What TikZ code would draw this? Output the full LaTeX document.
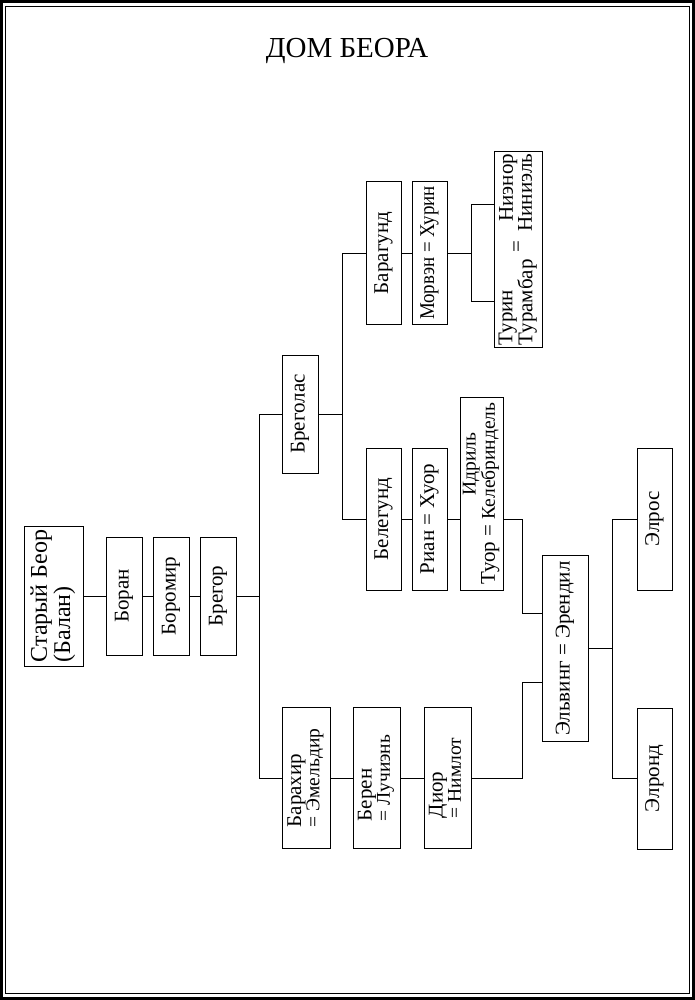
\documentclass[tikz,border=0pt]{standalone}
\usepackage{fontspec}
\setmainfont{Liberation Serif}
\usepackage{graphicx}
\newcommand\mainf{\fontsize{21}{18}\selectfont}
\newcommand\secf{\fontsize{19.5}{18}\selectfont}
\newcommand\rotlbl[1]{\rotatebox{90}{#1}}
\tikzset{
  box/.style={draw, line width=1pt, inner sep=0pt, outer sep=0pt, font=\mainf},
  conn/.style={line width=1pt},
}
\begin{document}
\begin{tikzpicture}[x=1pt, y=-1pt]
\useasboundingbox (0,0) rectangle (695,1000);
% frame
\draw[line width=3pt] (1.5,1.5) rectangle (693.5,998.5);
\draw[line width=0.8pt] (5.5,6) rectangle (689.5,993.5);
% title
\node[font=\fontsize{29}{30}\selectfont] (title) at (347,51) {ДОМ БЕОРА};
% nodes
\node[box, minimum width=59pt, minimum height=140pt] (beor) at (53.5,596)
  {\rotlbl{\fontsize{24}{22}\selectfont\begin{tabular}{@{}l@{}}Старый Беор\\(Балан)\end{tabular}}};
\node[box, minimum width=36pt, minimum height=118pt] (boran) at (124,596) {\rotlbl{Боран}};
\node[box, minimum width=36pt, minimum height=118pt] (boromir) at (171,596) {\rotlbl{Боромир}};
\node[box, minimum width=36pt, minimum height=118pt] (bregor) at (218,596) {\rotlbl{Брегор}};
\node[box, minimum width=36pt, minimum height=118pt] (bregolas) at (300,414) {\rotlbl{Бреголас}};
\node[box, minimum width=48pt, minimum height=141pt] (barahir) at (306,778)
  {\rotlbl{\begin{tabular}{@{}l@{}}Барахир\\{\secf= Эмельдир}\end{tabular}}};
\node[box, minimum width=47pt, minimum height=141pt] (beren) at (376.5,778)
  {\rotlbl{\begin{tabular}{@{}l@{}}Берен\\{\secf= Лучиэнь}\end{tabular}}};
\node[box, minimum width=47pt, minimum height=141pt] (dior) at (447.5,778)
  {\rotlbl{\begin{tabular}{@{}l@{}}Диор\\{\secf= Нимлот}\end{tabular}}};
\node[box, minimum width=46pt, minimum height=186pt] (elwing) at (565,648.5) {\rotlbl{Эльвинг = Эрендил}};
\node[box, minimum width=35pt, minimum height=142pt] (baragund) at (383.5,253) {\rotlbl{Барагунд}};
\node[box, minimum width=35pt, minimum height=142pt] (morwen) at (429.5,253) {\rotlbl{\scalebox{0.9}[1]{Морвэн = Хурин}}};
\node[box, minimum width=48pt, minimum height=195pt] (turin) at (518,249.5)
  {\rotlbl{\fontsize{21}{17}\selectfont\begin{tabular}{@{}l@{}}Турин\\Турамбар\end{tabular}\hspace{7pt}=\hspace{9pt}\begin{tabular}{@{}r@{}}Ниэнор\\Ниниэль\end{tabular}}};
\node[box, minimum width=35pt, minimum height=142pt] (belegund) at (383.5,519) {\rotlbl{Белегунд}};
\node[box, minimum width=35pt, minimum height=142pt] (rian) at (429.5,519) {\rotlbl{Риан = Хуор}};
\node[box, minimum width=43pt, minimum height=193pt] (tuor) at (481.5,493.5)
  {\rotlbl{Туор = {\secf\begin{tabular}[b]{@{}l@{}}\hspace*{24pt}Идриль\\Келебриндель\end{tabular}}}};
\node[box, minimum width=35pt, minimum height=142pt] (elros) at (654.5,519) {\rotlbl{Элрос}};
\node[box, minimum width=35pt, minimum height=141pt] (elrond) at (654.5,778.5) {\rotlbl{Элронд}};
% junctions
\coordinate (t1) at (259,596);
\coordinate (t2) at (342,414);
\coordinate (t3) at (471,253);
\coordinate (t5) at (522,519);
\coordinate (t4) at (612,648.5);
% connectors
\draw[conn] (beor) -- (boran);
\draw[conn] (boran) -- (boromir);
\draw[conn] (boromir) -- (bregor);
\draw[conn] (bregor) -- (t1);
\draw[conn] (bregolas.west) -| (t1);
\draw[conn] (barahir.west) -| (t1);
\draw[conn] (barahir) -- (beren);
\draw[conn] (beren) -- (dior);
\draw[conn] (bregolas.east) -- (t2);
\draw[conn] (baragund.west) -| (t2);
\draw[conn] (belegund.west) -| (t2);
\draw[conn] (baragund) -- (morwen);
\draw[conn] (morwen.east) -- (t3);
\draw[conn] ([yshift=44.5pt]turin.west) -| (t3);
\draw[conn] ([yshift=-51.5pt]turin.west) -| (t3);
\draw[conn] (belegund) -- (rian);
\draw[conn] (rian.east) -- (rian.east -| tuor.west);
\draw[conn] (rian.east -| tuor.east) -- (t5) |- ([yshift=35pt]elwing.west);
\draw[conn] (dior.east) -- (dior.east -| t5) |- ([yshift=-34pt]elwing.west);
\draw[conn] (elwing.east) -- (t4);
\draw[conn] (elros.west) -| (t4);
\draw[conn] (elrond.west) -| (t4);
\end{tikzpicture}
\end{document}
